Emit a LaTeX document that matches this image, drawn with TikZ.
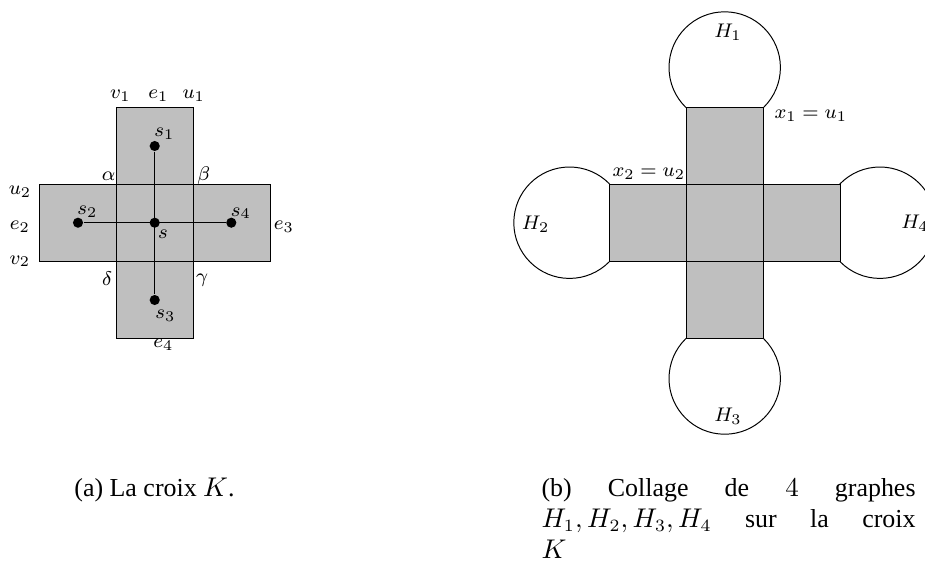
\documentclass[tikz,border=0pt]{standalone}
\usepackage{fontspec}
\setmainfont{Liberation Serif}
\usetikzlibrary{positioning}

\begin{document}
\begin{tikzpicture}[
    x=0.405pt, y=-0.405pt,
    cell/.style={draw, fill=lightgray},
    dot/.style={circle, fill, inner sep=0pt, minimum size=4.1pt},
    lab/.style={font=\footnotesize, inner sep=0pt},
    graphe/.style={draw},
    legende/.style={font=\fontsize{10.5}{12.5}\selectfont, inner sep=0pt}
]
\useasboundingbox (0,0) rectangle (925,570);

% Graphes H_1, ..., H_4 (sous la croix, les cases les recouvrent)
\draw[graphe] (724.7,67.5) circle[radius=55.7];
\draw[graphe] (569.5,222.7) circle[radius=55.7];
\draw[graphe] (724.7,378.5) circle[radius=55.7];
\draw[graphe] (879.9,222.7) circle[radius=55.7];

% Les deux croix K : cinq cases chacune
\foreach \cx in {154.7,724.7}
  \foreach \i/\j in {0/0,0/-1,0/1,-1/0,1/0}
    \draw[cell] ({\cx+77*\i-38.5},{222.7+77*\j-38.5}) rectangle ++(77,77);

% (a) sommets et aretes de la croix
\node[lab] (v1) at (120.5,96) {$v_1$};
\node[lab] (e1) at (158.3,96) {$e_1$};
\node[lab] (u1) at (193.8,96) {$u_1$};
\node[lab] (u2) at (20,192) {$u_2$};
\node[lab] (e2) at (20,226.7) {$e_2$};
\node[lab] (v2) at (20,261.3) {$v_2$};
\node[lab] (e3) at (283.8,226.5) {$e_3$};
\node[lab] (e4) at (163.3,345) {$e_4$};
\node[lab] (alpha) at (108.5,176.7) {$\alpha$};
\node[lab] (beta) at (203.8,176) {$\beta$};
\node[lab] (delta) at (107.2,279) {$\delta$};
\node[lab] (gamma) at (202,280) {$\gamma$};

% (a) le graphe dual
\node[dot] (s) at (154.7,222.7) {};
\node[dot] (s1) at (154.7,146) {};
\node[dot] (s2) at (78,222.7) {};
\node[dot] (s3) at (154.7,300) {};
\node[dot] (s4) at (231.3,222.7) {};
\draw (s1) -- (s3);
\draw (s2) -- (s4);
\node[lab] (ls) at (163,234) {$s$};
\node[lab] (ls1) at (164.3,134) {$s_1$};
\node[lab] (ls2) at (87.3,211.7) {$s_2$};
\node[lab] (ls3) at (165.3,316) {$s_3$};
\node[lab] (ls4) at (240.8,213.3) {$s_4$};

% (b) etiquettes du collage
\node[lab] (h1) at (728,32) {$H_1$};
\node[lab] (h2) at (535.7,224) {$H_2$};
\node[lab] (h3) at (728,416) {$H_3$};
\node[lab] (h4) at (915,223) {$H_4$};
\node[lab] (x1) at (810.8,115.5) {$x_1 = u_1$};
\node[lab] (x2) at (648.8,173.7) {$x_2 = u_2$};

% Legendes
\node[legende, anchor=base] (lega) at (154.5,496) {(a) La croix $K$.};
\node[legende, anchor=north west, text width=151.5pt, align=justify] (legb) at (541,478)
  {(b) Collage de $4$ graphes\linebreak $H_1, H_2, H_3, H_4$ sur la croix\linebreak $K$};

\end{tikzpicture}
\end{document}
